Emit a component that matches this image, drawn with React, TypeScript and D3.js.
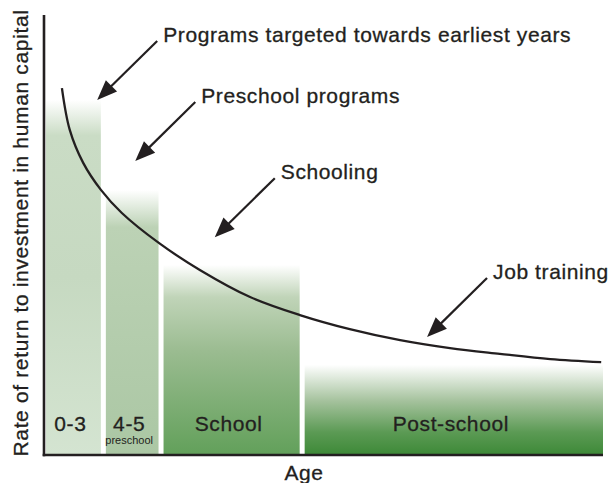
import React from "react";
import * as d3 from "d3";

// chart size
const width = 610;
const height = 483;

// life stages (bars)
const stageLabels = ["0-3", "4-5", "School", "Post-school"];
const stageSubLabels = ["", "preschool", "", ""];
const stageStart = [0, 10.6, 20.9, 46.1];
const stageEnd = [10.6, 20.9, 46.1, 100];
const stageHeight = [80.7, 60.2, 43.2, 20.5];

// rate of return curve
const curveAge = [3.2, 4.6, 7.0, 10.2, 13.9, 20.5, 27.9, 36.8, 45.7, 54.6, 63.6, 72.5, 81.4, 90.4, 99.5];
const curveReturn = [83.4, 73.9, 66.4, 60.2, 55.0, 48.2, 42.0, 35.9, 31.8, 28.6, 26.1, 24.3, 23.0, 21.8, 21.1];

// arrow annotations (tip position)
const noteLabels = ["Programs targeted towards earliest years", "Preschool programs", "Schooling", "Job training"];
const noteAge = [9.5, 16.3, 30.5, 68.4];
const noteReturn = [80.7, 66.8, 49.5, 26.8];

// gradient stops per bar: [offset, colour]
const stageGradients: [number, string][][] = [
  [[0, "#ffffff"], [0.1, "#cadcc5"], [0.5, "#c6d9c1"], [1, "#d4e4d1"]],
  [[0, "#ffffff"], [0.14, "#bcd2b5"], [1, "#abc7a4"]],
  [[0, "#ffffff"], [0.17, "#c0d4b8"], [0.45, "#9bbc91"], [1, "#62a05a"]],
  [[0, "#ffffff"], [0.4, "#a5c29d"], [0.75, "#5b9a54"], [1, "#3d8937"]],
];

const font = "'Liberation Sans', Arial, sans-serif";
const ink = "#231f20";

const xScale = d3.scaleLinear().domain([0, 100]).range([44, 604]);
const yScale = d3.scaleLinear().domain([0, 100]).range([455, 15]);

const textStyle = {
  fontFamily: font,
  fontSize: 21,
  letterSpacing: 0.6,
  fill: ink,
  stroke: ink,
  strokeWidth: 0.3,
};

const App = () => {
  const line = d3
    .line<number>()
    .x((d, i) => xScale(curveAge[i]))
    .y((d) => yScale(d))
    .curve(d3.curveCatmullRom.alpha(0.5));

  const gap = 2.5;

  return (
    <svg width={width} height={height} style={{ position: "absolute", left: 0, top: 0 }}>
      <defs>
        {stageGradients.map((stops, i) => (
          <linearGradient key={i} id={`stage-grad-${i}`} x1="0" y1="0" x2="0" y2="1">
            {stops.map(([o, c], j) => (
              <stop key={j} offset={o} stopColor={c} />
            ))}
          </linearGradient>
        ))}
      </defs>

      {/* bars */}
      {stageLabels.map((label, i) => {
        const x0 = xScale(stageStart[i]) + (i === 0 ? 2 : gap);
        const x1 = xScale(stageEnd[i]) - gap + (i === 3 ? 1.5 : 0);
        const cx = (x0 + x1) / 2 - 3;
        return (
          <g key={label}>
            <rect
              x={x0}
              y={yScale(stageHeight[i])}
              width={x1 - x0}
              height={yScale(0) - yScale(stageHeight[i])}
              fill={`url(#stage-grad-${i})`}
            />
            <text x={cx} y={431} textAnchor="middle" style={textStyle}>
              {label}
            </text>
            {stageSubLabels[i] && (
              <text x={cx} y={444} textAnchor="middle" fontFamily={font} fontSize={11} fill={ink}>
                {stageSubLabels[i]}
              </text>
            )}
          </g>
        );
      })}

      {/* curve */}
      <path d={line(curveReturn) || ""} fill="none" stroke={ink} strokeWidth={2.3} />

      {/* axes */}
      <line x1={xScale(0)} x2={xScale(0)} y1={yScale(100)} y2={yScale(0) + 1.3} stroke={ink} strokeWidth={2.6} />
      <line x1={xScale(0) - 1.3} x2={xScale(100) - 1} y1={yScale(0)} y2={yScale(0)} stroke={ink} strokeWidth={2.6} />

      {/* arrows */}
      {noteLabels.map((label, i) => {
        const tx = xScale(noteAge[i]);
        const ty = yScale(noteReturn[i]);
        const sx = tx + 60;
        const sy = ty - 59;
        const len = Math.hypot(sx - tx, sy - ty);
        const ux = (sx - tx) / len;
        const uy = (sy - ty) / len;
        const L = 20;
        const W = 8;
        const bx = tx + ux * L;
        const by = ty + uy * L;
        const head = [
          [tx, ty],
          [bx - uy * W, by + ux * W],
          [bx + uy * W, by - ux * W],
        ];
        return (
          <g key={label}>
            <line x1={sx} y1={sy} x2={tx + ux * L * 0.8} y2={ty + uy * L * 0.8} stroke={ink} strokeWidth={2.2} />
            <polygon points={head.map((p) => p.join(",")).join(" ")} fill={ink} />
            <text x={sx + 6} y={sy + 1} style={textStyle}>
              {label}
            </text>
          </g>
        );
      })}

      {/* axis titles */}
      <text
        transform="translate(28, 233) rotate(-90)"
        textAnchor="middle"
        textLength={447}
        lengthAdjust="spacing"
        style={textStyle}
      >
        Rate of return to investment in human capital
      </text>
      <text x={304} y={480} textAnchor="middle" style={textStyle}>
        Age
      </text>
    </svg>
  );
};

export default App;
